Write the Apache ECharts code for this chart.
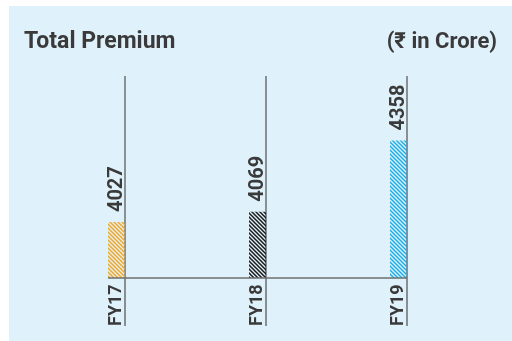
<!DOCTYPE html>
<html>
<head>
<meta charset="utf-8">
<script src="https://cdn.jsdelivr.net/npm/echarts@6/dist/echarts.min.js"></script>
<style>
html,body{margin:0;padding:0;background:#ffffff;}
#chart{width:512px;height:341px;}
</style>
</head>
<body>
<div id="chart"></div>
<script>
// Data
const categories = ['FY17', 'FY18', 'FY19'];
const values = [4027, 4069, 4358];
const barColors = ['#f5a623', '#1a1a1a', '#1eaee8'];
const titleText = 'Total Premium';
const unitText = '(₹ in Crore)';
const yMin = 3800;
const yMax = 4620;

const textColor = '#3a3a3a';
const lineColor = '#6e6e6e';
const fontFamily = 'Roboto, "Noto Sans", sans-serif';

function hatch(color) {
  const s = 4;
  const c = document.createElement('canvas');
  c.width = s; c.height = s;
  const g = c.getContext('2d');
  g.strokeStyle = color;
  g.lineWidth = 1.5;
  g.beginPath();
  for (const o of [-s, 0, s]) {
    g.moveTo(o - 1, -1);
    g.lineTo(o + s + 1, s + 1);
  }
  g.stroke();
  return c;
}
const patterns = barColors.map(hatch);

const chart = echarts.init(document.getElementById('chart'), null, {renderer: 'canvas'});
const barW = 17;

chart.setOption({
  backgroundColor: '#ffffff',
  animation: false,
  graphic: [{
    type: 'rect', left: 9, top: 6, z: -10, silent: true,
    shape: {width: 503, height: 335},
    style: {fill: '#dff1fb'}
  }],
  title: [{
    text: titleText, left: 24, top: 31, padding: 0,
    textStyle: {fontFamily: fontFamily, fontWeight: 'bold', fontSize: 23, color: textColor}
  }, {
    text: unitText, right: 15, top: 31, padding: 0,
    textStyle: {fontFamily: fontFamily, fontWeight: 'bold', fontSize: 22, color: textColor}
  }],
  grid: {left: 125, right: 105, top: 76, bottom: 63},
  xAxis: {
    type: 'category',
    data: categories,
    boundaryGap: false,
    axisLine: {show: false},
    axisTick: {show: true, length: 48, inside: false, lineStyle: {color: lineColor, width: 1.5}},
    splitLine: {show: true, lineStyle: {color: lineColor, width: 1.5}},
    axisLabel: {
      rotate: 90, margin: 48, align: 'left', verticalAlign: 'bottom',
      fontFamily: fontFamily, fontWeight: 'bold', fontSize: 18, color: textColor
    }
  },
  yAxis: {type: 'value', min: yMin, max: yMax, show: false},
  series: [{
    type: 'custom',
    data: categories.map((c, i) => [i, values[i]]),
    encode: {x: 0, y: 1},
    renderItem: function (params, api) {
      const i = api.value(0);
      const v = api.value(1);
      const top = api.coord([i, v]);
      const base = api.coord([i, yMin]);
      const prevX = i > 0 ? api.coord([i - 1, yMin])[0] : base[0] - barW;
      return {
        type: 'group',
        children: [{
          type: 'rect',
          shape: {x: base[0] - barW, y: top[1], width: barW, height: base[1] - top[1]},
          style: {fill: {image: patterns[i], repeat: 'repeat'}}
        }, {
          type: 'line',
          shape: {x1: prevX, y1: base[1], x2: base[0], y2: base[1]},
          style: {stroke: lineColor, lineWidth: 1.5}
        }, {
          type: 'text',
          x: base[0] - barW / 2,
          y: top[1] - 10,
          rotation: Math.PI / 2,
          style: {
            text: String(values[i]),
            font: 'bold 20px ' + fontFamily,
            fill: textColor,
            align: 'left',
            verticalAlign: 'middle'
          }
        }]
      };
    }
  }]
});
</script>
</body>
</html>
